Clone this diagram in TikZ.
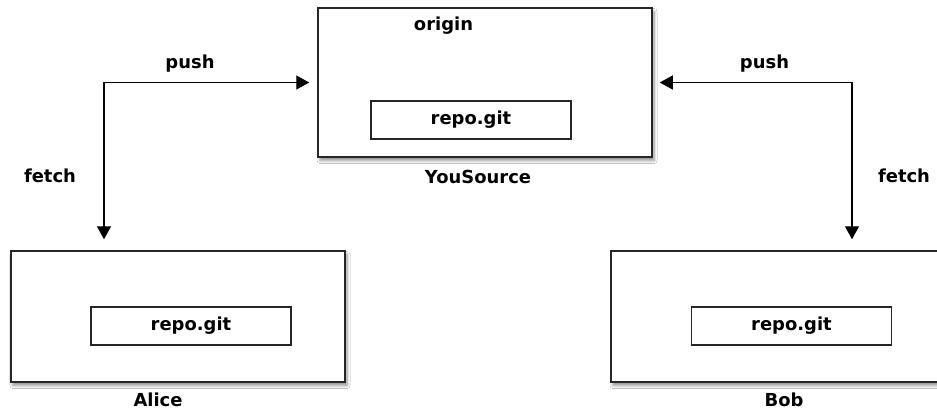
\documentclass[tikz,border=0pt]{standalone}
\usepackage{fontspec}
\setmainfont{DejaVu Sans}
\usetikzlibrary{arrows.meta,shadows.blur}
\begin{document}
\begin{tikzpicture}[x=1bp,y=-1bp,
  host/.style={draw=black!85,line width=1.5bp,fill=white,minimum width=334bp,inner sep=0pt,
    blur shadow={shadow blur steps=6,shadow xshift=2bp,shadow yshift=-3.5bp,shadow opacity=45,shadow blur radius=3bp}},
  repo/.style={draw=black!85,line width=1.3bp,fill=white,minimum width=200bp,minimum height=38bp,inner sep=0pt,font=\fontsize{18}{21}\selectfont\bfseries},
  lbl/.style={font=\fontsize{18}{21}\selectfont\bfseries,inner sep=0pt},
  link/.style={draw=black,line width=1.3bp,{Triangle[length=13bp,width=14bp]}-{Triangle[length=13bp,width=14bp]}}
]
\useasboundingbox (0,0) rectangle (937,410);
\clip (0,0) rectangle (937,410);
\fill[white] (0,0) rectangle (937,410);
% hosts
\node[host,minimum height=149bp] (origin) at (485,82.5) {};
\node[host,minimum height=131bp] (alice) at (178,316.5) {};
\node[host,minimum height=131bp] (bob) at (778,316.5) {};
% repositories
\node[repo] (orepo) at (471,120) {repo.git};
\node[repo] (arepo) at (191,326) {repo.git};
\node[repo] (brepo) at (791.5,326) {repo.git};
% labels
\node[lbl] (olbl) at (443.5,26) {origin};
\node[lbl] (ys) at (478,177) {YouSource};
\node[lbl] (albl) at (158,400) {Alice};
\node[lbl] (blbl) at (784,400) {Bob};
\node[lbl] (pushl) at (190,64) {push};
\node[lbl] (pushr) at (764.5,64) {push};
\node[lbl] (fetchl) at (50,176) {fetch};
\node[lbl] (fetchr) at (904,176) {fetch};
% connectors
\coordinate (lcorner) at (104,83);
\coordinate (rcorner) at (852,83);
\draw[link,shorten <=11bp,shorten >=8bp] (lcorner |- alice.north) |- (origin.west);
\draw[link,shorten <=11bp,shorten >=7bp] (rcorner |- bob.north) |- (origin.east);
\end{tikzpicture}
\end{document}
